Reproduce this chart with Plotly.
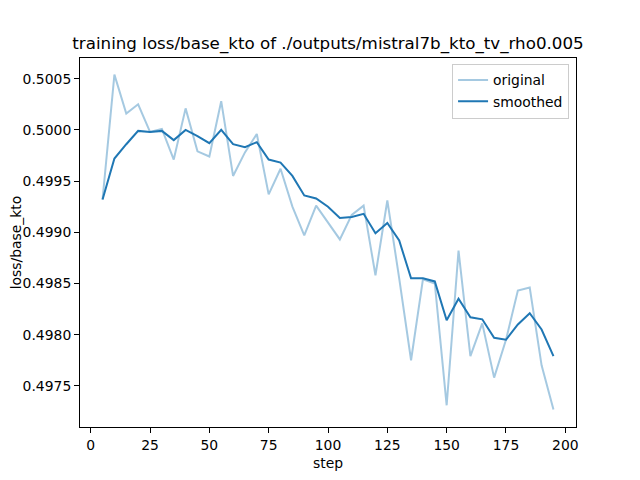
import plotly.graph_objects as go

steps = list(range(5, 200, 5))

original = [
    0.49932, 0.50054, 0.50016, 0.50025, 0.49998, 0.50001, 0.49971, 0.50021,
    0.49979, 0.49974, 0.50028, 0.49955, 0.49978, 0.49996, 0.49937, 0.49962,
    0.49925, 0.49897, 0.49926, 0.49909, 0.49893, 0.49917, 0.49926, 0.49858,
    0.49931, 0.49855, 0.49775, 0.49854, 0.49850, 0.49731, 0.49882, 0.49779,
    0.49811, 0.49758, 0.49795, 0.49843, 0.49846, 0.49770, 0.49727,
]

smoothed = [
    0.49932, 0.49972, 0.49986, 0.49999, 0.49998, 0.49999, 0.49990, 0.50000,
    0.49994, 0.49987, 0.50000, 0.49986, 0.49983, 0.49988, 0.49971, 0.49968,
    0.49955, 0.49936, 0.49933, 0.49925, 0.49914, 0.49915, 0.49918, 0.49899,
    0.49909, 0.49892, 0.49855, 0.49855, 0.49852, 0.49814, 0.49835, 0.49817,
    0.49815, 0.49797, 0.49795, 0.49810, 0.49821, 0.49805, 0.49779,
]

x_ticks = [0, 25, 50, 75, 100, 125, 150, 175, 200]
y_ticks = [0.4975, 0.4980, 0.4985, 0.4990, 0.4995, 0.5000, 0.5005]

font = "DejaVu Sans"
fs = 13.9

fig = go.Figure()
# raw values, faded like matplotlib alpha=0.4
fig.add_trace(go.Scatter(
    x=steps, y=original, mode='lines', name='original',
    line=dict(color='rgba(31,119,180,0.4)', width=2),
))
fig.add_trace(go.Scatter(
    x=steps, y=smoothed, mode='lines', name='smoothed',
    line=dict(color='#1f77b4', width=2),
))

axis_style = dict(
    showgrid=False, zeroline=False, showline=True, mirror=True,
    linecolor='black', linewidth=1, ticks='outside', ticklen=5,
    tickcolor='black', tickfont=dict(family=font, size=fs, color='black'),
    automargin=False,
)

# page body adds ~8px offset, margins compensate for it
fig.update_layout(
    width=640, height=480,
    margin=dict(l=72, r=72, t=50, b=61),
    plot_bgcolor='white', paper_bgcolor='white',
    font=dict(family=font, color='black'),
    title=dict(
        text="training loss/base_kto of ./outputs/mistral7b_kto_tv_rho0.005",
        font=dict(family=font, size=16.7, color='black'),
        x=0.5, xanchor='center', xref='paper',
        y=0.927, yanchor='middle', yref='container',
    ),
    xaxis=dict(
        range=[-4.5, 204.5], tickvals=x_ticks,
        title=dict(text='step', font=dict(family=font, size=fs), standoff=6),
        **axis_style,
    ),
    yaxis=dict(
        range=[0.497098, 0.500702], tickvals=y_ticks, tickformat='.4f',
        title=dict(text='loss/base_kto', font=dict(family=font, size=fs), standoff=16),
        **axis_style,
    ),
    legend=dict(
        x=0.986, y=0.985, xanchor='right', yanchor='top',
        bordercolor='#cccccc', borderwidth=1, bgcolor='rgba(255,255,255,0.8)',
        font=dict(family=font, size=fs, color='black'),
        itemwidth=30, tracegroupgap=0,
    ),
)

fig.write_html("out.html")
